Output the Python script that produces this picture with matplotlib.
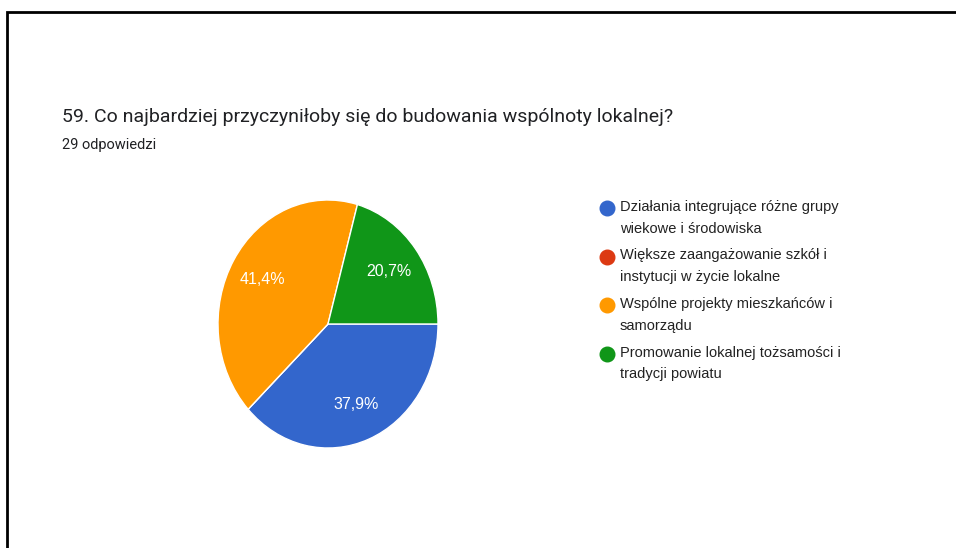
import matplotlib.pyplot as plt
from matplotlib.lines import Line2D

# Dane z ankiety (29 odpowiedzi)
tytul = "59. Co najbardziej przyczyniłoby się do budowania wspólnoty lokalnej?"
podtytul = "29 odpowiedzi"
kategorie = [
    "Działania integrujące różne grupy\nwiekowe i środowiska",
    "Większe zaangażowanie szkół i\ninstytucji w życie lokalne",
    "Wspólne projekty mieszkańców i\nsamorządu",
    "Promowanie lokalnej tożsamości i\ntradycji powiatu",
]
odpowiedzi = [11, 0, 12, 6]
kolory = ["#3366CC", "#DC3912", "#FF9900", "#109618"]

W, H = 956, 548
fig = plt.figure(figsize=(W / 100, H / 100), dpi=100)

# tło z ramką (góra i lewa krawędź)
tlo = fig.add_axes([0, 0, 1, 1])
tlo.set_xlim(0, W)
tlo.set_ylim(H, 0)
tlo.axis("off")
tlo.plot([7, 7, W], [H, 12, 12], color="black", lw=2, solid_joinstyle="miter")

tlo.text(62, 117, tytul, fontsize=14.0, family="Roboto", color="#202124", va="center")
tlo.text(62, 145, podtytul, fontsize=10.5, family="Roboto", color="#202124", va="center")


def etykieta(p):
    if p < 0.05:
        return ""
    return f"{p:.1f}%".replace(".", ",")


# wykres kołowy (lekko spłaszczony w poziomie)
ax = fig.add_axes([218 / W, (H - 448) / H, 220 / W, 248 / H])
wedges, _, teksty = ax.pie(
    odpowiedzi, colors=kolory, startangle=0, counterclock=False,
    autopct=etykieta, pctdistance=0.7,
    wedgeprops=dict(edgecolor="white", linewidth=1),
    textprops=dict(color="white", fontsize=11.5, family="Liberation Sans"),
)
ax.set_aspect("auto")
ax.set_xlim(-1, 1)
ax.set_ylim(-1, 1)

# legenda
for i, (nazwa, kolor) in enumerate(zip(kategorie, kolory)):
    y = 208 + i * 48.5
    tlo.add_line(Line2D([607], [y], marker="o", markersize=10.5, color=kolor, lw=0))
    tlo.text(620, y - 8, nazwa, fontsize=10.5, family="Liberation Sans", color="#222222",
             va="top", linespacing=1.72)

fig.savefig("out.png", dpi=100)
